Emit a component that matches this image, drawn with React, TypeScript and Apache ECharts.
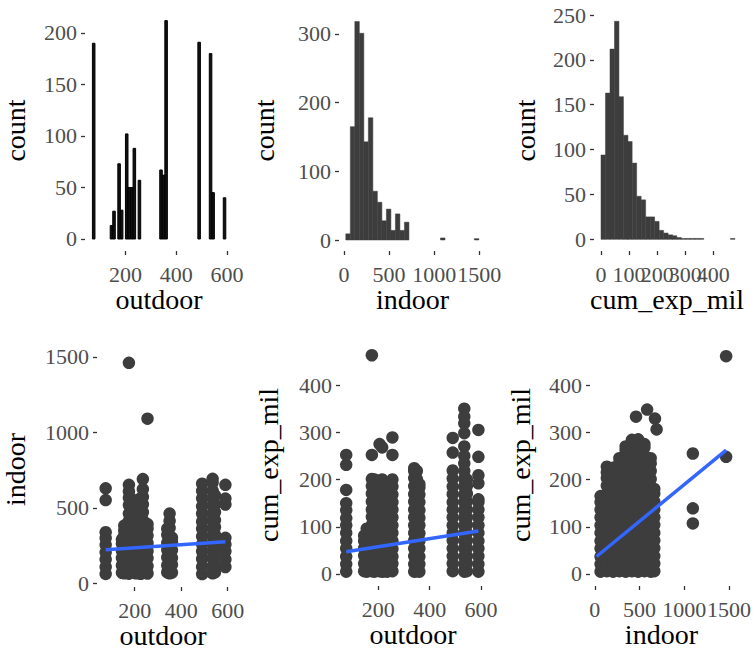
import React, { useEffect, useRef } from 'react';
import * as echarts from 'echarts';

// ---------- histogram data ----------
const outdoorBinCenters = [75, 145, 155, 175, 185, 205, 215, 225, 235, 255, 340, 350, 360, 490, 535, 545, 590];
const outdoorCounts = [190, 13, 27, 73, 28, 102, 50, 50, 88, 57, 67, 62, 212, 191, 180, 45, 40];
const OUTDOOR_BINWIDTH = 10;

const indoorBinCenters = [45, 95, 145, 195, 245, 295, 345, 395, 445, 495, 545, 595, 645, 695, 1095, 1470];
const indoorCounts = [9, 165, 318, 301, 143, 178, 71, 55, 28, 45, 14, 38, 14, 26, 3, 2];
const INDOOR_BINWIDTH = 50;

const cumBinCenters = [8, 24, 40, 56, 72, 88, 103, 119, 135, 151, 167, 183, 199, 215, 231, 247, 262, 278, 294, 310, 326, 342, 358, 469];
const cumCounts = [94, 163, 212, 243, 159, 116, 109, 85, 48, 44, 25, 25, 20, 10, 7, 5, 4, 2, 1, 1, 1, 1, 1, 1];
const CUM_BINWIDTH = 15.9;

// ---------- scatter data ----------
const outdoorLevels = [75, 145, 155, 175, 185, 205, 215, 225, 235, 255, 340, 350, 360, 490, 535, 545, 590];

// indoor values observed at each outdoor level (panel: indoor ~ outdoor)
const indoorByOutdoor = [
  [62, 108, 158, 205, 255, 300, 338, 551, 629],
  [70, 118, 168, 215, 262, 290],
  [66, 112, 165, 214, 263, 318, 350, 382],
  [64, 116, 163, 218, 266, 312, 367, 413, 462, 518, 566, 608, 652, 1460],
  [72, 121, 168, 222, 271, 318, 372, 420, 468, 522, 560],
  [66, 113, 166, 214, 267, 314, 366, 412, 466, 508],
  [71, 119, 172, 218, 268, 322, 368, 421, 472],
  [63, 117, 164, 216, 263, 317, 363, 414, 467, 513, 562],
  [69, 122, 171, 219, 272, 321, 369, 418, 471, 523, 572, 623, 690],
  [65, 114, 167, 213, 266, 316, 362, 392, 1090],
  [72, 118, 171, 222, 268, 321, 362],
  [66, 116, 163, 217, 264, 314, 367, 413, 462],
  [71, 123, 168, 219, 272, 302],
  [61, 108, 161, 212, 258, 311, 362, 408, 462, 509, 563, 612, 660],
  [66, 113, 167, 214, 266, 316, 364, 417, 463, 517, 566, 614, 667, 692],
  [72, 118, 172, 221, 268, 322, 372, 419, 471, 522, 582],
  [108, 158, 212, 257, 301, 522, 561, 652],
];

// cum_exp_mil values observed at each outdoor level (panel: cum_exp_mil ~ outdoor)
const cumByOutdoor = [
  [5, 21, 37, 54, 70, 87, 103, 118, 135, 150, 178, 231, 252],
  [6, 22, 39, 55, 70, 81],
  [5, 21, 38, 53, 71, 86, 96],
  [6, 23, 39, 55, 72, 88, 104, 121, 136, 153, 170, 186, 201, 252, 463],
  [5, 20, 37, 54, 69, 86, 102, 119, 135, 152, 168, 185, 200],
  [6, 22, 38, 55, 71, 87, 104, 120, 137, 153, 168, 184, 196, 275],
  [5, 21, 37, 54, 70, 86, 103, 119, 135, 151, 167, 184, 200, 268],
  [6, 22, 39, 54, 71, 88, 104, 119, 136, 152, 169, 183, 195],
  [5, 21, 38, 55, 70, 86, 102, 118, 135, 152, 167, 180, 190],
  [6, 22, 37, 53, 70, 87, 103, 120, 136, 152, 168, 185, 200, 252, 289],
  [5, 21, 38, 54, 71, 87, 103, 120, 136, 153, 169, 186, 203, 218, 224],
  [6, 23, 39, 55, 71, 88, 104, 121, 137, 152, 168, 185, 201, 218],
  [5, 21, 37, 54, 70, 86, 103, 119, 135, 152, 168, 183, 190],
  [6, 22, 38, 54, 71, 87, 103, 120, 136, 152, 169, 185, 202, 219, 257, 288],
  [5, 21, 37, 54, 70, 86, 102, 119, 135, 152, 168, 185, 201, 218, 234, 250, 270, 298, 319, 333, 350],
  [6, 22, 38, 55, 71, 87, 104, 120, 136, 153, 170, 186, 200],
  [5, 21, 38, 54, 70, 87, 103, 120, 136, 152, 158, 192, 209, 248, 305],
];

// cum_exp_mil ~ indoor: indoor positions and the cum values seen there
const indoorLevels = [65, 135, 205, 275, 345, 415, 485, 555, 625, 665];
const cumByIndoor = [
  [5, 21, 37, 54, 70, 87, 103, 120, 136, 152, 165],
  [6, 22, 38, 55, 71, 88, 104, 121, 137, 154, 170, 187, 203, 215, 227],
  [5, 21, 38, 54, 70, 87, 103, 119, 136, 152, 169, 185, 201, 218, 225],
  [6, 22, 38, 55, 71, 87, 104, 120, 137, 153, 170, 186, 203, 219, 235, 245],
  [5, 21, 37, 54, 70, 86, 103, 119, 135, 152, 168, 185, 201, 217, 234, 250, 262, 270],
  [6, 22, 39, 55, 71, 88, 104, 120, 137, 153, 170, 186, 202, 219, 235, 252, 268, 284],
  [5, 21, 38, 54, 70, 87, 103, 119, 136, 152, 169, 185, 201, 218, 234, 251, 267, 285],
  [6, 22, 38, 55, 71, 87, 104, 120, 136, 153, 169, 186, 202, 218, 235, 251, 268, 275],
  [5, 21, 37, 54, 70, 87, 103, 119, 136, 152, 169, 185, 201, 218, 234, 245],
  [6, 22, 38, 55, 71, 87, 104, 120, 136, 153, 170, 180],
];
const cumIndoorExtra = [
  [461, 333], [585, 348], [673, 329], [691, 306],
  [1096, 255], [1096, 139], [1096, 107], [1468, 461], [1468, 248],
];

// fitted lm lines (endpoints)
const trendIndoorOutdoor = [[75, 222], [590, 275]];
const trendCumOutdoor = [[75, 47], [590, 91]];
const trendCumIndoor = [[20, 37], [1468, 262]];

// tick labels
const ticksOutdoor = [200, 400, 600];
const ticksIndoor = [0, 500, 1000, 1500];
const ticksCum = [0, 100, 200, 300, 400];
const ticksCount1 = [0, 50, 100, 150, 200];
const ticksCount2 = [0, 100, 200, 300];
const ticksCount3 = [0, 50, 100, 150, 200, 250];
const ticksIndoorY = [0, 500, 1000, 1500];
const ticksCumY = [0, 100, 200, 300, 400];

const FONT = "'Liberation Serif', 'Times New Roman', Times, serif";
const INK = '#3d3d3d';

function makeAxis(gridIndex: number, min: number, max: number, ticks: number[], name: string, nameGap: number, isY: boolean) {
  // empty placeholder labels at both ends of the axis keep every real label visible
  const labelValues = [min, ...ticks, max];
  const real = new Set(ticks);
  return {
    type: 'value',
    gridIndex,
    min,
    max,
    name,
    nameLocation: 'middle',
    nameGap,
    nameRotate: isY ? 90 : 0,
    nameTextStyle: { fontFamily: FONT, fontSize: 28, color: '#000000' },
    axisLine: { show: false, onZero: false },
    axisTick: { show: true, length: 4, lineStyle: { color: '#333333', width: 1.3 }, customValues: ticks },
    axisLabel: {
      customValues: labelValues,
      formatter: (v: number) => (real.has(v) ? String(v) : ''),
      color: '#4d4d4d',
      fontFamily: FONT,
      fontSize: 22,
      margin: isY ? 8 : 12,
      hideOverlap: false,
      showMinLabel: true,
      showMaxLabel: true,
    },
    splitLine: { show: false },
  };
}

function histSeries(idx: number, centers: number[], counts: number[], bw: number, fill: string, stroke: string, lw: number) {
  return {
    type: 'custom',
    xAxisIndex: idx,
    yAxisIndex: idx,
    data: centers.map((c, i) => [c - bw / 2, c + bw / 2, counts[i]]),
    encode: { x: [0, 1], y: 2 },
    renderItem: (_params: any, api: any) => {
      const tl = api.coord([api.value(0), api.value(2)]);
      const br = api.coord([api.value(1), 0]);
      return {
        type: 'rect',
        shape: { x: tl[0], y: tl[1], width: br[0] - tl[0], height: br[1] - tl[1] },
        style: { fill, stroke, lineWidth: lw },
      };
    },
  };
}

function strips(levels: number[], values: number[][]) {
  const pts: number[][] = [];
  levels.forEach((lv, i) => values[i].forEach((v) => pts.push([lv, v])));
  return pts;
}

function scatterSeries(idx: number, data: number[][]) {
  return {
    type: 'scatter',
    xAxisIndex: idx,
    yAxisIndex: idx,
    data,
    symbol: 'circle',
    symbolSize: 12.5,
    itemStyle: { color: INK, opacity: 1 },
    clip: false,
  };
}

function trendSeries(idx: number, data: number[][]) {
  return {
    type: 'line',
    xAxisIndex: idx,
    yAxisIndex: idx,
    data,
    symbol: 'none',
    lineStyle: { color: '#3366FF', width: 3.5 },
    z: 5,
  };
}

export default function App() {
  const ref = useRef<HTMLDivElement>(null);
  useEffect(() => {
    if (!ref.current) return;
    const chart = echarts.init(ref.current, undefined, { renderer: 'svg' });
    const option: any = {
      animation: false,
      backgroundColor: '#ffffff',
      grid: [
        { left: 83, top: 10, width: 150, height: 241 },
        { left: 339, top: 10, width: 147, height: 241 },
        { left: 594, top: 10, width: 146, height: 241 },
        { left: 95, top: 352, width: 134, height: 235 },
        { left: 340, top: 344, width: 146, height: 242 },
        { left: 590, top: 344, width: 150, height: 242 },
      ],
      xAxis: [
        makeAxis(0, 40.8, 623.3, ticksOutdoor, 'outdoor', 34, false),
        makeAxis(1, -55.4, 1574.3, ticksIndoor, 'indoor', 34, false),
        makeAxis(2, -24.9, 495, ticksCum, 'cum_exp_mil', 34, false),
        makeAxis(3, 37.7, 605.5, ticksOutdoor, 'outdoor', 34, false),
        makeAxis(4, 50.8, 619.6, ticksOutdoor, 'outdoor', 34, false),
        makeAxis(5, -53.2, 1542.5, ticksIndoor, 'indoor', 34, false),
      ],
      yAxis: [
        makeAxis(0, -11.65, 222.3, ticksCount1, 'count', 56, true),
        makeAxis(1, -16, 334.9, ticksCount2, 'count', 61, true),
        makeAxis(2, -13, 255.6, ticksCount3, 'count', 55, true),
        makeAxis(3, -24.5, 1531.8, ticksIndoorY, 'indoor', 68, true),
        makeAxis(4, -25.4, 486.8, ticksCumY, 'cum_exp_mil', 58, true),
        makeAxis(5, -25.4, 486.8, ticksCumY, 'cum_exp_mil', 56, true),
      ],
      series: [
        histSeries(0, outdoorBinCenters, outdoorCounts, OUTDOOR_BINWIDTH, '#111111', '#000000', 1),
        histSeries(1, indoorBinCenters, indoorCounts, INDOOR_BINWIDTH, INK, INK, 0.5),
        histSeries(2, cumBinCenters, cumCounts, CUM_BINWIDTH, INK, INK, 0.5),
        scatterSeries(3, strips(outdoorLevels, indoorByOutdoor)),
        trendSeries(3, trendIndoorOutdoor),
        scatterSeries(4, strips(outdoorLevels, cumByOutdoor)),
        trendSeries(4, trendCumOutdoor),
        scatterSeries(5, strips(indoorLevels, cumByIndoor).concat(cumIndoorExtra)),
        trendSeries(5, trendCumIndoor),
      ],
    };
    chart.setOption(option);
    return () => chart.dispose();
  }, []);
  return (
    <div
      ref={ref}
      style={{ position: 'absolute', left: 0, top: 0, width: 754, height: 651, background: '#ffffff' }}
    />
  );
}
